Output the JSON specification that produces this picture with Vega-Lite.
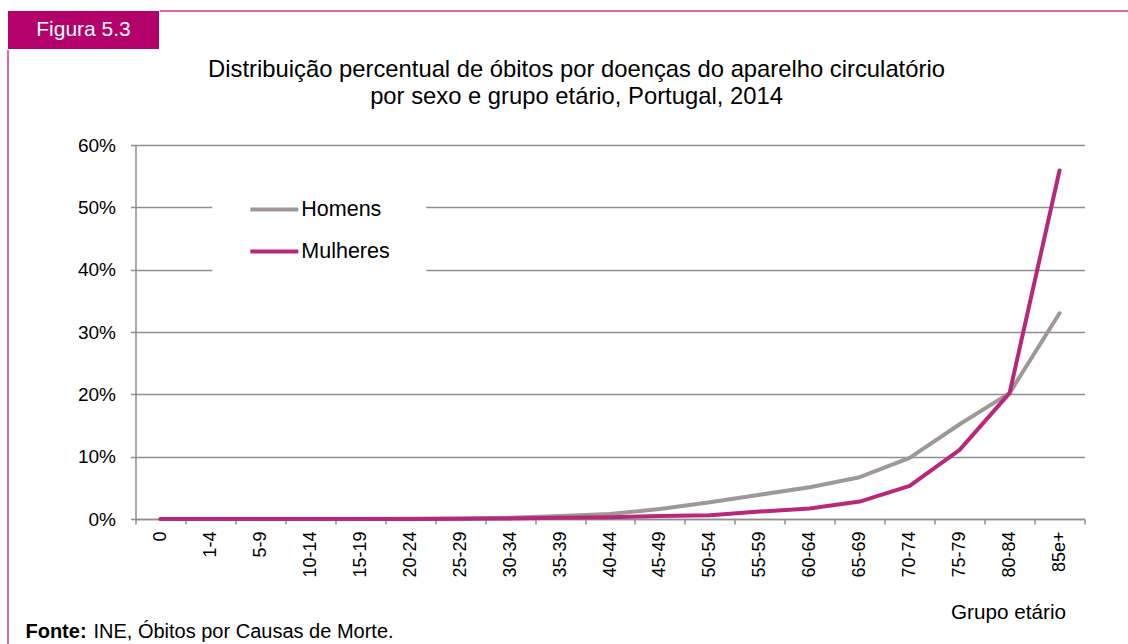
{
  "$schema": "https://vega.github.io/schema/vega-lite/v6.json",
  "background": "white",
  "padding": {"left": 7, "top": 10, "right": 0, "bottom": 0},
  "config": {"view": {"stroke": null}, "font": "Liberation Sans"},
  "spacing": 0,
  "vconcat": [
    {
      "spacing": 0,
      "hconcat": [
        {
          "width": 151,
          "height": 38,
          "data": {"values": [{"texto": "Figura 5.3"}]},
          "view": {"fill": "#b3006b", "stroke": null},
          "mark": {"type": "text", "color": "white", "fontSize": 21, "font": "Liberation Sans"},
          "encoding": {"text": {"field": "texto"}}
        },
        {
          "width": 969,
          "height": 38,
          "data": {"values": [{"borda": 1}]},
          "mark": {"type": "rule", "color": "#c8378a", "strokeWidth": 1.5},
          "encoding": {"y": {"field": "borda", "type": "quantitative", "scale": {"domain": [0, 1]}, "axis": null}}
        }
      ]
    },
    {
      "spacing": 15.5,
      "hconcat": [
        {
          "width": 1,
          "height": 596,
          "data": {"values": [{"borda": 0}]},
          "mark": {"type": "rule", "color": "#c8378a", "strokeWidth": 1.5},
          "encoding": {"x": {"field": "borda", "type": "quantitative", "scale": {"domain": [0, 1]}, "axis": null}}
        },
        {
          "spacing": 0,
          "vconcat": [
            {"width": 1, "height": 7.45, "view": {"fill": "transparent", "stroke": null}, "data": {"values": []}, "mark": {"type": "text"}, "encoding": {"text": {"field": "t"}}},
            {
              "spacing": 0,
              "hconcat": [
                {"width": 50.75, "height": 1, "view": {"fill": "transparent", "stroke": null}, "data": {"values": []}, "mark": {"type": "text"}, "encoding": {"text": {"field": "t"}}},
                {
                  "width": 949,
                  "height": 374,
                  "data": {"values": [
                    {"grupo": "0", "sexo": "Homens", "valor": 0.0},
                    {"grupo": "1-4", "sexo": "Homens", "valor": 0.0},
                    {"grupo": "5-9", "sexo": "Homens", "valor": 0.0},
                    {"grupo": "10-14", "sexo": "Homens", "valor": 0.0},
                    {"grupo": "15-19", "sexo": "Homens", "valor": 0.0002},
                    {"grupo": "20-24", "sexo": "Homens", "valor": 0.0004},
                    {"grupo": "25-29", "sexo": "Homens", "valor": 0.0008},
                    {"grupo": "30-34", "sexo": "Homens", "valor": 0.002},
                    {"grupo": "35-39", "sexo": "Homens", "valor": 0.005},
                    {"grupo": "40-44", "sexo": "Homens", "valor": 0.008},
                    {"grupo": "45-49", "sexo": "Homens", "valor": 0.016},
                    {"grupo": "50-54", "sexo": "Homens", "valor": 0.027},
                    {"grupo": "55-59", "sexo": "Homens", "valor": 0.039},
                    {"grupo": "60-64", "sexo": "Homens", "valor": 0.051},
                    {"grupo": "65-69", "sexo": "Homens", "valor": 0.067},
                    {"grupo": "70-74", "sexo": "Homens", "valor": 0.098},
                    {"grupo": "75-79", "sexo": "Homens", "valor": 0.152},
                    {"grupo": "80-84", "sexo": "Homens", "valor": 0.202},
                    {"grupo": "85e+", "sexo": "Homens", "valor": 0.330},
                    {"grupo": "0", "sexo": "Mulheres", "valor": 0.0},
                    {"grupo": "1-4", "sexo": "Mulheres", "valor": 0.0},
                    {"grupo": "5-9", "sexo": "Mulheres", "valor": 0.0},
                    {"grupo": "10-14", "sexo": "Mulheres", "valor": 0.0},
                    {"grupo": "15-19", "sexo": "Mulheres", "valor": 0.0001},
                    {"grupo": "20-24", "sexo": "Mulheres", "valor": 0.0002},
                    {"grupo": "25-29", "sexo": "Mulheres", "valor": 0.0005},
                    {"grupo": "30-34", "sexo": "Mulheres", "valor": 0.001},
                    {"grupo": "35-39", "sexo": "Mulheres", "valor": 0.002},
                    {"grupo": "40-44", "sexo": "Mulheres", "valor": 0.003},
                    {"grupo": "45-49", "sexo": "Mulheres", "valor": 0.005},
                    {"grupo": "50-54", "sexo": "Mulheres", "valor": 0.006},
                    {"grupo": "55-59", "sexo": "Mulheres", "valor": 0.012},
                    {"grupo": "60-64", "sexo": "Mulheres", "valor": 0.017},
                    {"grupo": "65-69", "sexo": "Mulheres", "valor": 0.028},
                    {"grupo": "70-74", "sexo": "Mulheres", "valor": 0.053},
                    {"grupo": "75-79", "sexo": "Mulheres", "valor": 0.111},
                    {"grupo": "80-84", "sexo": "Mulheres", "valor": 0.202},
                    {"grupo": "85e+", "sexo": "Mulheres", "valor": 0.559}
                  ]},
                  "title": {
                    "text": ["Distribuição percentual de óbitos por doenças do aparelho circulatório", "por sexo e grupo etário, Portugal, 2014"],
                    "fontSize": 23.8,
                    "fontWeight": "normal",
                    "font": "Liberation Sans",
                    "color": "black",
                    "anchor": "middle",
                    "frame": "group",
                    "dx": -33.5,
                    "lineHeight": 26.6,
                    "offset": 27.5
                  },
                  "mark": {"type": "line", "strokeWidth": 4, "strokeCap": "round", "strokeJoin": "round"},
                  "encoding": {
                    "x": {
                      "field": "grupo",
                      "type": "ordinal",
                      "sort": ["0", "1-4", "5-9", "10-14", "15-19", "20-24", "25-29", "30-34", "35-39", "40-44", "45-49", "50-54", "55-59", "60-64", "65-69", "70-74", "75-79", "80-84", "85e+"],
                      "scale": {"type": "band", "paddingInner": 0, "paddingOuter": 0},
                      "axis": {
                        "title": "Grupo etário",
                        "titleFontSize": 20.7,
                        "titleFontWeight": "normal",
                        "titleColor": "black",
                        "titleFont": "Liberation Sans",
                        "titleAnchor": null,
                        "titleAlign": "center",
                        "titleBaseline": "alphabetic",
                        "titleX": 872.5,
                        "titleY": 99,
                        "labelAngle": -90,
                        "labelFontSize": 18,
                        "labelColor": "black",
                        "labelFont": "Liberation Sans",
                        "labelPadding": 7,
                        "tickBand": "extent",
                        "tickSize": 5,
                        "tickWidth": 1.5,
                        "tickColor": "#8e8e8e",
                        "domainColor": "#8e8e8e",
                        "domainWidth": 1.5,
                        "grid": false
                      }
                    },
                    "y": {
                      "field": "valor",
                      "type": "quantitative",
                      "scale": {"domain": [0, 0.6]},
                      "axis": {
                        "title": null,
                        "format": ".0%",
                        "values": [0, 0.1, 0.2, 0.3, 0.4, 0.5, 0.6],
                        "labelFontSize": 19,
                        "labelColor": "black",
                        "labelFont": "Liberation Sans",
                        "labelPadding": 15,
                        "tickSize": 5,
                        "tickWidth": 1.5,
                        "tickColor": "#8e8e8e",
                        "domainColor": "#8e8e8e",
                        "domainWidth": 1.5,
                        "gridColor": "#8e8e8e",
                        "gridWidth": 1.3
                      }
                    },
                    "color": {
                      "field": "sexo",
                      "type": "nominal",
                      "scale": {"domain": ["Homens", "Mulheres"], "range": ["#9e9896", "#b8277a"]},
                      "legend": {
                        "title": null,
                        "orient": "none",
                        "legendX": 204.3,
                        "legendY": 148.5,
                        "direction": "vertical",
                        "fillColor": "white",
                        "padding": 36,
                        "labelFontSize": 21.5,
                        "labelColor": "black",
                        "labelFont": "Liberation Sans",
                        "symbolType": "M-1,0H3",
                        "symbolSize": 576,
                        "symbolStrokeWidth": 4,
                        "labelOffset": 25,
                        "rowPadding": 17
                      }
                    }
                  }
                }
              ]
            },
            {
              "spacing": 0,
              "hconcat": [
                {"width": 61, "height": 20, "data": {"values": [{"texto": "Fonte:"}]}, "view": {"fill": "transparent", "stroke": null}, "mark": {"type": "text", "fontSize": 20, "fontWeight": "bold", "color": "black", "font": "Liberation Sans"}, "encoding": {"text": {"field": "texto"}}},
                {"width": 312, "height": 20, "data": {"values": [{"texto": "INE, Óbitos por Causas de Morte."}]}, "view": {"fill": "transparent", "stroke": null}, "mark": {"type": "text", "fontSize": 20, "color": "black", "font": "Liberation Sans"}, "encoding": {"text": {"field": "texto"}}}
              ]
            }
          ]
        }
      ]
    }
  ]
}
